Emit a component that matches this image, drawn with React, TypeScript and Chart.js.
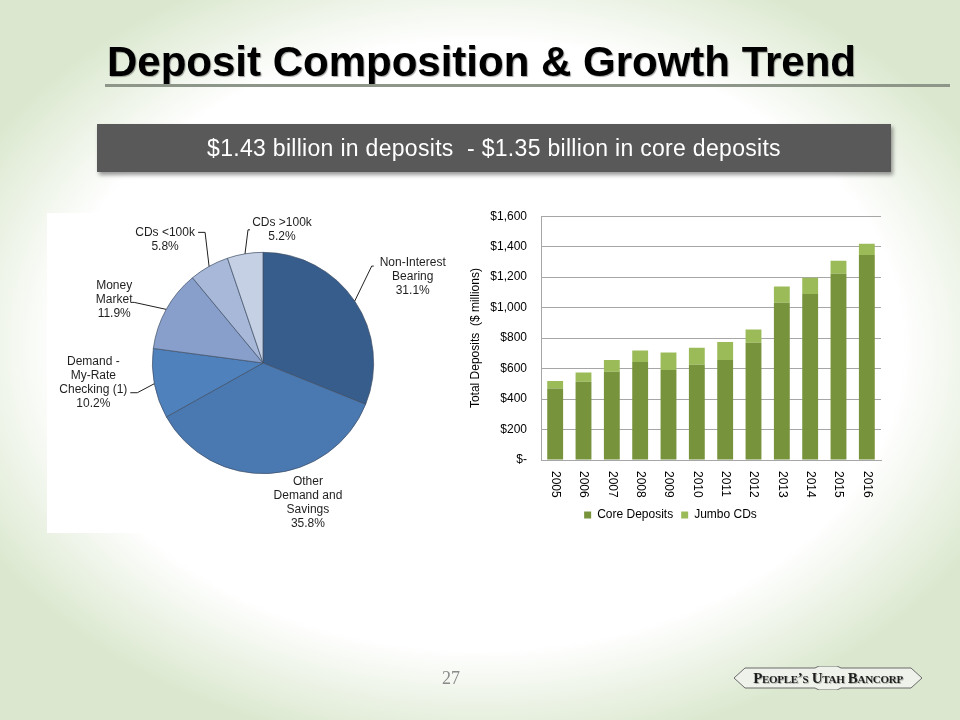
import React, { useEffect, useRef } from "react";
import { Chart, registerables } from "chart.js";

Chart.register(...registerables);

// ---------- data ----------
const pieCategories: string[][] = [
  ["Non-Interest", "Bearing"],
  ["Other", "Demand and", "Savings"],
  ["Demand -", "My-Rate", "Checking (1)"],
  ["Money", "Market"],
  ["CDs <100k"],
  ["CDs >100k"],
];
const pieValues = [31.1, 35.8, 10.2, 11.9, 5.8, 5.2];
const pieColors = ["#375D8C", "#4A78B1", "#4F81BD", "#889FCB", "#A7B8D8", "#C5D0E4"];

const years = ["2005", "2006", "2007", "2008", "2009", "2010", "2011", "2012", "2013", "2014", "2015", "2016"];
const coreDeposits = [470, 514, 579, 643, 590, 625, 656, 769, 1032, 1089, 1222, 1345];
const jumboCDs = [48, 61, 77, 76, 116, 112, 118, 88, 107, 107, 85, 75];
const yMax = 1600;
const yStep = 200;

// label placement relative to each slice's outer mid point (style only)
const pieLeaders = [
  { line: true, elbow: [17, -35], tail: 2, text: [39, -3] },
  { line: false, elbow: [0, 0], tail: 0, text: [38, 8] },
  { line: true, elbow: [-17, 9], tail: -7, text: [-37, -31] },
  { line: true, elbow: [-32, -7], tail: -2, text: [-18, -17] },
  { line: true, elbow: [-4, -34], tail: -7, text: [-33, 0] },
  { line: true, elbow: [3, -24], tail: 2, text: [32, -7] },
];

const FONT = '"Liberation Sans", Arial, Helvetica, sans-serif';

const pieLabelPlugin = {
  id: "pieLabels",
  afterDraw(chart: any) {
    const ctx = chart.ctx as CanvasRenderingContext2D;
    const meta = chart.getDatasetMeta(0);
    ctx.save();
    ctx.font = `12px ${FONT}`;
    ctx.fillStyle = "#1f1f1f";
    ctx.strokeStyle = "#1f1f1f";
    ctx.lineWidth = 1;
    ctx.textAlign = "center";
    ctx.textBaseline = "middle";
    meta.data.forEach((arc: any, i: number) => {
      const p = arc.getProps(["x", "y", "startAngle", "endAngle", "outerRadius"], true);
      const mid = (p.startAngle + p.endAngle) / 2;
      const px = p.x + Math.cos(mid) * p.outerRadius;
      const py = p.y + Math.sin(mid) * p.outerRadius;
      const L = pieLeaders[i];
      const ex = px + L.elbow[0];
      const ey = py + L.elbow[1];
      const tx = ex + L.tail;
      const ty = ey;
      if (L.line) {
        ctx.beginPath();
        ctx.moveTo(px, py);
        ctx.lineTo(ex, ey);
        ctx.lineTo(tx, ty);
        ctx.stroke();
      }
      const lines = [...pieCategories[i], pieValues[i].toFixed(1) + "%"];
      const cx = tx + L.text[0];
      const cy = ty + L.text[1];
      lines.forEach((t, k) => ctx.fillText(t, cx, cy + k * 14));
    });
    ctx.restore();
  },
};

const xLabelPlugin = {
  id: "xLabelsVertical",
  afterDraw(chart: any) {
    const ctx = chart.ctx as CanvasRenderingContext2D;
    const xs = chart.scales.x;
    ctx.save();
    ctx.font = `12px ${FONT}`;
    ctx.fillStyle = "#000";
    ctx.textAlign = "left";
    ctx.textBaseline = "middle";
    (chart.data.labels as string[]).forEach((lab, i) => {
      const x = xs.getPixelForTick(i);
      ctx.save();
      ctx.translate(x, xs.top + 11);
      ctx.rotate(Math.PI / 2);
      ctx.fillText(lab, 0, 0);
      ctx.restore();
    });
    ctx.restore();
  },
};

function PieChart() {
  const ref = useRef<HTMLCanvasElement>(null);
  useEffect(() => {
    const chart = new Chart(ref.current!, {
      type: "pie",
      data: {
        labels: pieCategories.map((l) => l.join(" ")),
        datasets: [
          {
            data: pieValues,
            backgroundColor: pieColors,
            borderColor: "#3f4f66",
            borderWidth: 0.7,
          },
        ],
      },
      options: {
        animation: false,
        responsive: false,
        layout: { padding: { left: 105, right: 86, top: 39, bottom: 59 } },
        plugins: { legend: { display: false }, tooltip: { enabled: false } },
      },
      plugins: [pieLabelPlugin],
    });
    return () => chart.destroy();
  }, []);
  return <canvas ref={ref} width={413} height={320} style={{ display: "block" }} />;
}

function BarChart() {
  const ref = useRef<HTMLCanvasElement>(null);
  useEffect(() => {
    const chart = new Chart(ref.current!, {
      type: "bar",
      data: {
        labels: years,
        datasets: [
          { label: "Core Deposits", data: coreDeposits, backgroundColor: "#77933C", borderWidth: 0 },
          { label: "Jumbo CDs", data: jumboCDs, backgroundColor: "#9BBB59", borderWidth: 0 },
        ],
      },
      options: {
        animation: false,
        responsive: false,
        layout: { padding: { left: 0, right: 9, top: 11, bottom: 9 } },
        datasets: { bar: { categoryPercentage: 0.56, barPercentage: 1 } } as any,
        scales: {
          x: {
            stacked: true,
            grid: { display: false },
            border: { display: true, color: "#A6A6A6", width: 1 },
            ticks: { display: false },
            afterFit: (s: any) => {
              s.height = 41;
            },
          },
          y: {
            stacked: true,
            min: 0,
            max: yMax,
            grid: { color: "#A6A6A6", lineWidth: 1, drawTicks: false },
            border: { display: true, color: "#A6A6A6", width: 1 },
            ticks: {
              stepSize: yStep,
              padding: 14,
              color: "#000",
              font: { family: FONT, size: 12 },
              callback: (v: any) => (Number(v) === 0 ? "$-" : "$" + Number(v).toLocaleString("en-US")),
            },
            title: {
              display: true,
              text: "Total Deposits  ($ millions)",
              color: "#000",
              font: { family: FONT, size: 12 },
              padding: { top: 8, bottom: 0 },
            },
            afterFit: (s: any) => {
              s.width = 81;
            },
          },
        },
        plugins: {
          legend: {
            position: "bottom",
            labels: {
              boxWidth: 7,
              boxHeight: 7,
              padding: 8,
              color: "#000",
              font: { family: FONT, size: 12 },
            },
          },
          tooltip: { enabled: false },
        },
      },
      plugins: [xLabelPlugin],
    });
    return () => chart.destroy();
  }, []);
  return <canvas ref={ref} width={430} height={345} style={{ display: "block" }} />;
}

export default function App() {
  useEffect(() => {
    document.body.style.margin = "0";
  }, []);
  return (
    <div
      style={{
        position: "fixed",
        left: 0,
        top: 0,
        width: 960,
        height: 720,
        overflow: "hidden",
        fontFamily: FONT,
        background:
          "radial-gradient(ellipse closest-side at 50% 48%, #ffffff 88%, #dbe8cf 118%)",
      }}
    >
      <div
        style={{
          position: "absolute",
          left: 107,
          top: 41,
          fontSize: 42,
          lineHeight: "42px",
          fontWeight: "bold",
          color: "#000",
          whiteSpace: "nowrap",
          textShadow: "1px 1px 1px rgba(0,0,0,0.35)",
        }}
      >
        Deposit Composition &amp; Growth Trend
      </div>
      <div
        style={{
          position: "absolute",
          left: 105,
          top: 84,
          width: 845,
          height: 3,
          background: "#8E968A",
        }}
      />
      <div
        style={{
          position: "absolute",
          left: 97,
          top: 124,
          width: 794,
          height: 48,
          background: "#595959",
          boxShadow: "2px 3px 4px rgba(0,0,0,0.4)",
          color: "#fff",
          fontSize: 23,
          letterSpacing: 0.3,
          lineHeight: "48px",
          textAlign: "center",
          whiteSpace: "pre",
        }}
      >
        {"$1.43 billion in deposits  - $1.35 billion in core deposits"}
      </div>
      <div style={{ position: "absolute", left: 47, top: 213, width: 413, height: 320, background: "#fff" }}>
        <PieChart />
      </div>
      <div style={{ position: "absolute", left: 460, top: 195, width: 430, height: 345 }}>
        <BarChart />
      </div>
      <div
        style={{
          position: "absolute",
          left: 436,
          top: 668,
          width: 30,
          textAlign: "center",
          fontFamily: '"Liberation Serif", "Times New Roman", serif',
          fontSize: 18,
          color: "#8a8a8a",
        }}
      >
        27
      </div>
      <div style={{ position: "absolute", left: 733, top: 666, width: 190, height: 24 }}>
        <svg width={190} height={24} style={{ position: "absolute", left: 0, top: 0 }}>
          <polygon
            points="1,12 12,2 82,2 86,0 104,0 108,2 178,2 189,12 178,22 108,22 104,24 86,24 82,22 12,22"
            fill="#eef2ea"
            stroke="#6b6b6b"
            strokeWidth={1}
          />
        </svg>
        <div
          style={{
            position: "absolute",
            left: 0,
            top: 3,
            width: 190,
            textAlign: "center",
            fontFamily: '"Liberation Serif", "Times New Roman", serif',
            fontWeight: "bold",
            fontVariant: "small-caps",
            fontSize: 15,
            lineHeight: "18px",
            color: "#1e1e1e",
            letterSpacing: -0.3,
            textShadow: "1px 1px 0 rgba(0,0,0,0.25)",
            whiteSpace: "nowrap",
          }}
        >
          People&#8217;s Utah Bancorp
        </div>
      </div>
    </div>
  );
}
